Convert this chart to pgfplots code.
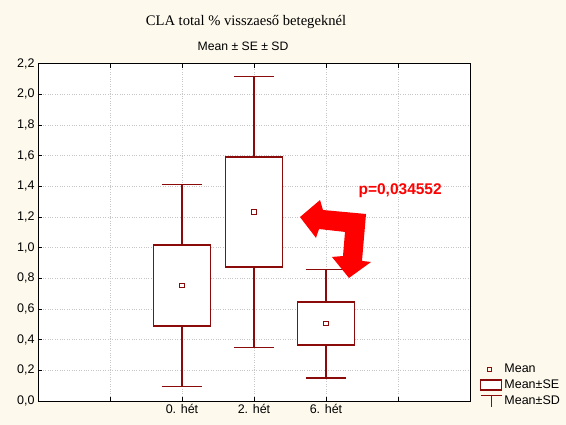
\documentclass[border=0pt]{standalone}
\usepackage{fontspec}
\setmainfont{Liberation Sans}
\newfontfamily\serifttl{Liberation Serif}
\usepackage{pgfplots}
\pgfplotsset{compat=1.18}
\usepgfplotslibrary{statistics}
\definecolor{cream}{RGB}{253,249,237}
\definecolor{dred}{RGB}{139,10,10}
\begin{document}
\begin{tikzpicture}
\fill[cream] (0pt,0pt) rectangle (566pt,425pt);
\useasboundingbox (0pt,0pt) rectangle (566pt,425pt);
\node[font={\serifttl\fontsize{14.6}{16}\selectfont}] at (246pt,403pt) {CLA total \% visszaeső betegeknél};
\node[font={\fontsize{12.2}{14}\selectfont}] at (243pt,379pt) {Mean ± SE ± SD};
\begin{axis}[
  at={(38pt,24pt)}, anchor=south west,
  scale only axis, width=432pt, height=337.5pt,
  xmin=-2, xmax=4, ymin=0, ymax=2.2,
  axis background/.style={fill=white},
  xtick={-1,0,1,2,3},
  xticklabels={,0. hét,2. hét,6. hét,},
  ytick={0,0.2,...,2.21},
  yticklabel style={/pgf/number format/.cd, use comma, fixed, fixed zerofill, precision=1},
  /pgf/number format/assume math mode=true,
  ticklabel style={font=\fontsize{12.5}{14}\selectfont},
  grid=major,
  major grid style={gray!45, dotted, line width=0.6pt},
  tick style={black, line width=0.6pt},
  tick align=inside,
  axis line style={black, line width=0.9pt},
  xtick pos=both, ytick pos=left,
  legend style={at={(1.023,0.115)}, anchor=north west, draw=none, fill=none,
    font=\fontsize{12.5}{14}\selectfont, row sep=1.5pt, inner sep=0pt,
    /tikz/every even column/.append style={column sep=5pt}},
  legend cell align=left,
  boxplot/draw direction=y,
  boxplot/every box/.style={draw=dred, line width=1.6pt, fill=white},
  boxplot/every whisker/.style={draw=dred, line width=1.1pt},
  boxplot/every median/.style={draw=dred, line width=1.6pt},
  clip=false,
]
\addlegendimage{only marks, mark=square, mark size=2.3pt, dred, line width=0.9pt}
\addlegendentry{Mean}
\addlegendimage{legend image code/.code={\draw[dred, line width=1.3pt, fill=white] (0pt,-5pt) rectangle (21pt,5pt);}}
\addlegendentry{Mean±SE}
\addlegendimage{legend image code/.code={\draw[dred, line width=1pt] (0pt,5pt) -- (21pt,5pt) (10.5pt,5pt) -- (10.5pt,-6pt);}}
\addlegendentry{Mean±SD}

\addplot[forget plot, dred, mark=none, boxplot prepared={draw position=0,
  lower whisker=0.095, lower quartile=0.489, median=0.489,
  upper quartile=1.017, upper whisker=1.411, box extend=0.79, whisker extend=0.56}]
  coordinates {};
\addplot[forget plot, dred, mark=none, boxplot prepared={draw position=1,
  lower whisker=0.349, lower quartile=0.873, median=0.873,
  upper quartile=1.591, upper whisker=2.115, box extend=0.79, whisker extend=0.56}]
  coordinates {};
\addplot[forget plot, dred, mark=none, boxplot prepared={draw position=2,
  lower whisker=0.150, lower quartile=0.365, median=0.365,
  upper quartile=0.645, upper whisker=0.860, box extend=0.79, whisker extend=0.56}]
  coordinates {};
\addplot[forget plot, only marks, mark=square, mark size=2.3pt, dred, line width=0.9pt]
  coordinates {(0,0.753) (1,1.232) (2,0.505)};

\fill[red] (axis cs:1.639,1.199) -- (axis cs:1.917,1.310) -- (axis cs:1.958,1.245)
  -- (axis cs:2.556,1.219) -- (axis cs:2.5,0.913) -- (axis cs:2.625,0.906)
  -- (axis cs:2.319,0.802) -- (axis cs:2.083,0.939) -- (axis cs:2.236,0.945)
  -- (axis cs:2.264,1.102) -- (axis cs:1.903,1.121) -- (axis cs:1.861,1.063) -- cycle;
\node[red, font=\bfseries\fontsize{15.5}{17}\selectfont] at (axis cs:3.03,1.37) {p=0,034552};
\end{axis}
\end{tikzpicture}
\end{document}
